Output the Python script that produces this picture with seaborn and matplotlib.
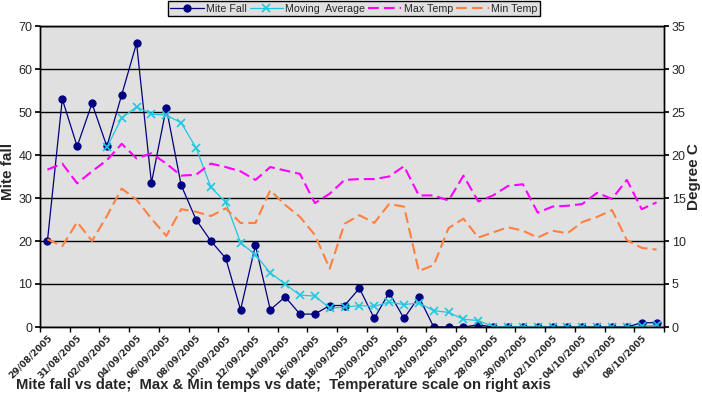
import matplotlib
matplotlib.use('Agg')
import matplotlib.pyplot as plt
import matplotlib.transforms as mtransforms
import numpy as np
import pandas as pd
import seaborn as sns

# Data (one value per day, 29/08/2005 - 09/10/2005)
days = pd.date_range('2005-08-29', '2005-10-09', freq='D')
mite_fall = [20, 53, 42, 52, 42, 54, 66, 33.5, 51, 33, 25, 20, 16, 4, 19, 4, 7, 3, 3, 5,
             5, 9, 2, 8, 2, 7, 0, 0, 0, 0.5, 0, 0, 0, 0, 0, 0, 0, 0, 0, 0, 1, 1]
moving_avg = [np.nan, np.nan, np.nan, np.nan, 41.8, 48.6, 51.2, 49.5, 49.3, 47.5, 41.7,
              32.5, 29.0, 19.6, 16.8, 12.6, 10.0, 7.4, 7.2, 4.4, 4.6, 5.0, 4.8, 5.8, 5.2,
              5.6, 3.8, 3.4, 1.8, 1.5, 0.1, 0.1, 0.1, 0.1, 0, 0, 0, 0, 0, 0, 0.2, 0.4]
max_temp = [18.3, 19.0, 16.7, 18.1, 19.4, 21.3, 19.6, 20.2, 19.0, 17.6, 17.7, 19.0, 18.6,
            18.1, 17.1, 18.6, 18.2, 17.8, 14.4, 15.5, 17.1, 17.2, 17.2, 17.5, 18.7, 15.3,
            15.3, 14.7, 17.6, 14.6, 15.3, 16.4, 16.6, 13.3, 14.0, 14.1, 14.3, 15.6, 14.9,
            17.1, 13.7, 14.5]
min_temp = [10.2, 9.4, 12.2, 10.0, 12.9, 16.1, 14.8, 12.6, 10.6, 13.7, 13.4, 12.9, 13.8,
            12.1, 12.1, 15.9, 14.2, 12.8, 10.7, 6.8, 12.0, 13.0, 12.1, 14.3, 14.0, 6.5,
            7.2, 11.5, 12.6, 10.4, 11.0, 11.6, 11.2, 10.4, 11.2, 10.9, 12.2, 12.8, 13.6,
            10.1, 9.2, 9.0]
tick_labels = [d.strftime('%d/%m/%Y') for d in days[::2]]

df = pd.DataFrame({'day': np.arange(len(days)), 'mite': mite_fall, 'ma': moving_avg,
                   'tmax': max_temp, 'tmin': min_temp})

sns.set_theme(style='white')
plt.rcParams['font.family'] = ['Liberation Sans', 'DejaVu Sans']

W, H = 702, 396
fig = plt.figure(figsize=(W / 100, H / 100), dpi=100)
ax = fig.add_axes([40 / W, 1 - 327 / H, 624 / W, 301 / H])
ax.set_facecolor('#e0e0e0')
ax2 = ax.twinx()
ax2.patch.set_visible(False)

# mite fall + moving average on left axis
sns.lineplot(data=df, x='day', y='mite', ax=ax, color='#000080', lw=0.9,
             marker='o', markersize=5.2, markeredgecolor='#000080', label='Mite Fall', legend=False)
sns.lineplot(data=df, x='day', y='ma', ax=ax, color='#1ec8e0', lw=0.9,
             marker='x', markersize=6, mew=1.2, markeredgecolor='#1ec8e0',
             label='Moving  Average', legend=False)

# temperatures on right axis
sns.lineplot(data=df, x='day', y='tmax', ax=ax2, color='#ff00ff', lw=1.5,
             label='Max Temp', legend=False)
sns.lineplot(data=df, x='day', y='tmin', ax=ax2, color='#ff8040', lw=1.5,
             label='Min Temp', legend=False)
for ln in ax2.lines:
    ln.set_dashes([5.2, 2.4])

ax.set_xlim(-0.5, len(days) - 0.5)
ax.set_ylim(0, 70)
ax2.set_ylim(0, 35)
ax.set_yticks(range(0, 71, 10))
ax2.set_yticks(range(0, 36, 5))
ax.yaxis.grid(True, color='black', lw=1)
ax.set_axisbelow(True)

# labels centred on every other day, tick marks on the category boundaries
ax.set_xticks(np.arange(0, len(days), 2))
ax.set_xticks(np.arange(-0.5, len(days), 2), minor=True)
ax.set_xticklabels(tick_labels, rotation=45, ha='right', va='top',
                   rotation_mode='anchor', fontsize=6.6, fontweight='bold',
                   family='DejaVu Sans')
shift = mtransforms.ScaledTranslation(-2.5 / 100, 0, fig.dpi_scale_trans)
for lab in ax.get_xticklabels():
    lab.set_transform(lab.get_transform() + shift)
ax.tick_params(axis='x', which='major', bottom=True, length=0, pad=4.5)
ax.tick_params(axis='x', which='minor', bottom=True, direction='out', length=3.6,
               color='black', width=1)
ax.tick_params(axis='y', left=True, direction='out', length=3.6, color='black',
               labelsize=9, pad=2)
ax2.tick_params(axis='y', right=True, direction='out', length=3.6, color='black',
                labelsize=9, pad=2)
for a in (ax, ax2):
    for s in a.spines.values():
        s.set_color('black')
        s.set_linewidth(1)

ax.set_xlabel('')
ax.set_ylabel('')
ax2.set_ylabel('')
fig.text(8 / W, 1 - 171 / H, 'Mite fall', rotation=90, fontsize=11, fontweight='bold',
         ha='center', va='center')
fig.text(694 / W, 1 - 177 / H, 'Degree C', rotation=90, fontsize=11, fontweight='bold',
         ha='center', va='center')

h1, l1 = ax.get_legend_handles_labels()
h2, l2 = ax2.get_legend_handles_labels()
leg = fig.legend(h1 + h2, l1 + l2, loc='upper center', bbox_to_anchor=(354 / W, 1 - 1 / H),
                 ncol=4, fontsize=7.7, frameon=True, fancybox=False, edgecolor='black',
                 facecolor='#e0e0e0', framealpha=1, handlelength=3.1, columnspacing=0.3,
                 handletextpad=0.2, borderpad=0.25, borderaxespad=0)
leg.get_frame().set_linewidth(1)

fig.text(16 / W, 1 - 385 / H,
         'Mite fall vs date;  Max & Min temps vs date;  Temperature scale on right axis',
         fontsize=10.7, fontweight='bold', va='center', ha='left')

fig.savefig('out.png', dpi=100, facecolor='white')
